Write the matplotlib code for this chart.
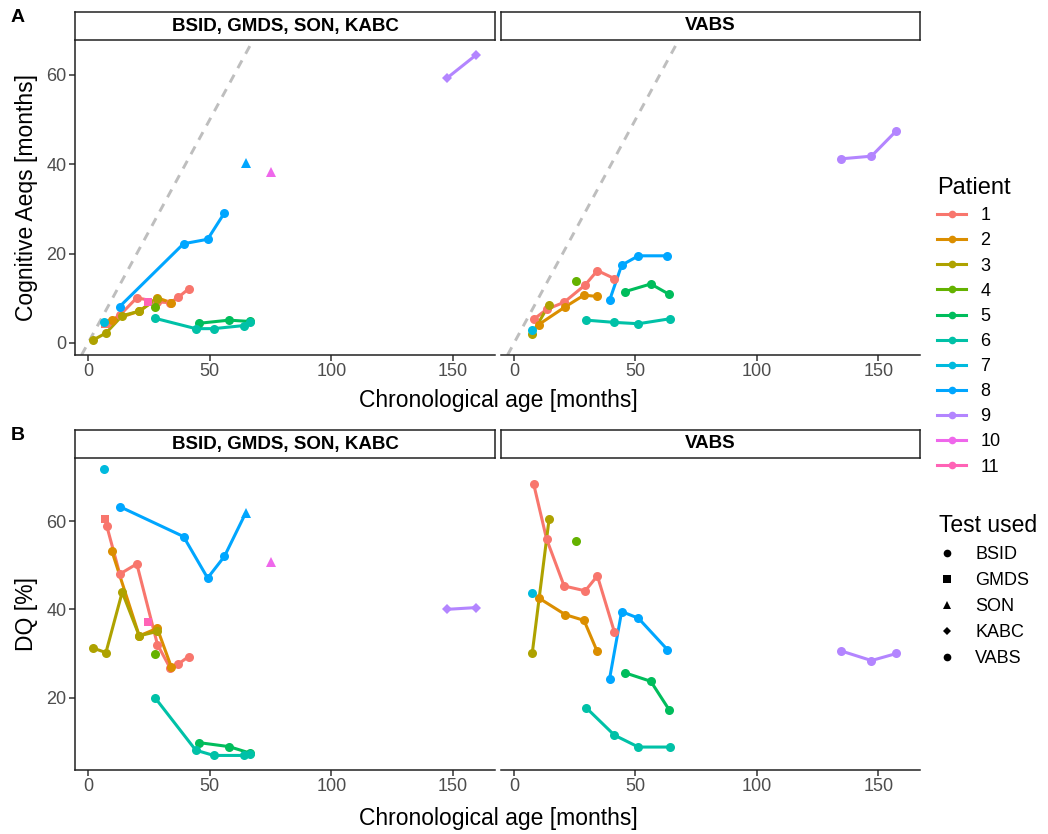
import matplotlib.pyplot as plt
from matplotlib.lines import Line2D

plt.rcParams['font.family'] = ['Liberation Sans', 'DejaVu Sans']

# ggplot hue palette for 11 patients
PATIENT_COLORS = ['#F8766D', '#DB8E00', '#AEA200', '#64B200', '#00BD5C', '#00C1A7',
                  '#00BADE', '#00A6FF', '#B385FF', '#EF67EB', '#FF63B6']
TESTS = ['BSID', 'GMDS', 'SON', 'KABC', 'VABS']
TEST_MARKERS = {'BSID': 'o', 'GMDS': 's', 'SON': '^', 'KABC': 'D', 'VABS': 'o'}
TEST_SIZES = {'BSID': 6.5, 'GMDS': 6.2, 'SON': 7.5, 'KABC': 4.8, 'VABS': 6.5}

# one entry per assessment
patient = [1, 1, 1, 1, 1, 1, 1, 1,
           11,
           2, 2, 2, 2,
           3, 3, 3, 3, 3,
           4,
           5, 5, 5,
           6, 6, 6, 6, 6,
           7,
           8, 8, 8, 8, 8,
           9, 9,
           10,
           # VABS
           1, 1, 1, 1, 1, 1,
           2, 2, 2, 2,
           3, 3,
           4,
           5, 5, 5,
           6, 6, 6, 6,
           7,
           8, 8, 8, 8,
           9, 9, 9]
test = ['GMDS', 'BSID', 'BSID', 'BSID', 'BSID', 'BSID', 'BSID', 'BSID',
        'GMDS',
        'BSID', 'BSID', 'BSID', 'BSID',
        'BSID', 'BSID', 'BSID', 'BSID', 'BSID',
        'BSID',
        'BSID', 'BSID', 'BSID',
        'BSID', 'BSID', 'BSID', 'BSID', 'BSID',
        'BSID',
        'BSID', 'BSID', 'BSID', 'BSID', 'SON',
        'KABC', 'KABC',
        'SON'] + ['VABS'] * 30
age = [7.0, 7.7, 13.0, 20.0, 28.5, 33.7, 37.0, 41.3,
       24.8,
       9.7, 21.0, 28.4, 34.2,
       2.2, 7.3, 14.0, 21.0, 28.4,
       27.3,
       45.6, 57.9, 66.7,
       27.6, 44.2, 51.6, 64.2, 66.7,
       6.6,
       12.9, 39.2, 49.1, 56.0, 64.8,
       147.3, 159.3,
       75.0,
       8.1, 13.4, 20.6, 29.3, 34.3, 41.3,
       10.1, 21.1, 28.8, 34.2,
       7.5, 14.4,
       25.6,
       45.8, 56.3, 63.8,
       29.7, 41.3, 51.2, 64.1,
       7.2,
       39.3, 44.3, 51.2, 63.1,
       134.6, 147.2, 157.5]
aeq = [4.3, 4.5, 6.2, 10.1, 9.2, 9.0, 10.2, 12.1,
       9.2,
       5.1, 7.1, 10.1, 9.0,
       0.7, 2.2, 6.1, 7.1, 9.9,
       8.1,
       4.4, 5.1, 4.8,
       5.5, 3.2, 3.2, 3.9, 4.7,
       4.7,
       8.1, 22.2, 23.2, 29.1, 40.3,
       59.2, 64.4,
       38.3,
       5.3, 7.5, 9.1, 13.0, 16.2, 14.4,
       4.1, 8.1, 10.7, 10.4,
       2.1, 8.6,
       13.9,
       11.5, 13.2, 10.9,
       5.1, 4.6, 4.3, 5.4,
       3.0,
       9.5, 17.4, 19.5, 19.5,
       41.2, 41.8, 47.5]
dq = [60.5, 58.8, 48.0, 50.3, 32.0, 26.7, 27.6, 29.3,
      37.1,
      53.3, 34.0, 35.7, 26.9,
      31.2, 30.2, 43.9, 34.0, 35.0,
      29.8,
      9.8, 8.9, 7.4,
      19.9, 8.1, 6.9, 6.9, 7.2,
      71.8,
      63.3, 56.5, 47.1, 52.0, 61.9,
      40.0, 40.4,
      50.7,
      68.3, 55.9, 45.3, 44.2, 47.6, 34.9,
      42.6, 38.8, 37.5, 30.5,
      30.2, 60.4,
      55.5,
      25.6, 23.7, 17.3,
      17.7, 11.5, 8.8, 8.8,
      43.8,
      24.2, 39.5, 38.0, 30.9,
      30.6, 28.4, 30.0]

FACETS = ['BSID, GMDS, SON, KABC', 'VABS']

W, H = 1048, 834
fig = plt.figure(figsize=(W / 100, H / 100), dpi=100)


def px_axes(x0, y0, x1, y1):
    return fig.add_axes([x0 / W, 1 - y1 / H, (x1 - x0) / W, (y1 - y0) / H])


def strip(x0, y0, x1, y1, text):
    ax = px_axes(x0, y0, x1, y1)
    ax.set_xticks([])
    ax.set_yticks([])
    for s in ax.spines.values():
        s.set_linewidth(1.1)
        s.set_color('#222222')
    ax.text(0.5, 0.5, text, ha='center', va='center', fontsize=13.5,
            fontweight='bold', transform=ax.transAxes)


def draw_panel(ax, facet, yvals, split_tests, ylim, show_yaxis):
    ax.set_xlim(-5.4, 167.2)
    ax.set_ylim(*ylim)
    if yvals is aeq:
        # reference line: cognitive age equal to chronological age
        ax.axline((0, 0), slope=1, color='#BEBEBE', lw=2.1, ls=(0, (3, 2.6)), zorder=1)
    idx = [i for i in range(len(patient)) if (test[i] == 'VABS') == (facet == 1)]
    for p in range(1, 12):
        groups = [TESTS] if not split_tests else [[t] for t in TESTS]
        for g in groups:
            sel = [i for i in idx if patient[i] == p and test[i] in g]
            if len(sel) > 1:
                ax.plot([age[i] for i in sel], [yvals[i] for i in sel],
                        color=PATIENT_COLORS[p - 1], lw=2.2, zorder=2,
                        solid_joinstyle='round', solid_capstyle='butt')
    for i in idx:
        ax.plot(age[i], yvals[i], marker=TEST_MARKERS[test[i]], ms=TEST_SIZES[test[i]],
                color=PATIENT_COLORS[patient[i] - 1], ls='none', zorder=3, mew=0)
    ax.set_xticks([0, 50, 100, 150])
    for s in ['top', 'right']:
        ax.spines[s].set_visible(False)
    for s in ['left', 'bottom']:
        ax.spines[s].set_linewidth(1.1)
        ax.spines[s].set_color('#222222')
    ax.tick_params(labelsize=13, labelcolor='#4D4D4D', length=4, width=1.1,
                   color='#333333', pad=2)
    if not show_yaxis:
        # interior facet: no y axis drawn
        ax.spines['left'].set_visible(False)
        ax.tick_params(axis='y', left=False, labelleft=False)


# panel A
axA1 = px_axes(75, 40, 495, 355)
axA2 = px_axes(501, 40, 920, 355)
draw_panel(axA1, 0, aeq, True, (-2.7, 67.8), True)
draw_panel(axA2, 1, aeq, True, (-2.7, 67.8), False)
for ax in (axA1, axA2):
    ax.set_yticks([0, 20, 40, 60])
strip(75, 12, 495, 40, FACETS[0])
strip(501, 12, 920, 40, FACETS[1])
axA1.set_ylabel('Cognitive Aeqs [months]', fontsize=16.5, labelpad=6)
fig.text(498 / W, 1 - 400 / H, 'Chronological age [months]', ha='center', va='center', fontsize=16.5)

# panel B
axB1 = px_axes(75, 458, 495, 770)
axB2 = px_axes(501, 458, 920, 770)
draw_panel(axB1, 0, dq, False, (3.6, 74.3), True)
draw_panel(axB2, 1, dq, False, (3.6, 74.3), False)
for ax in (axB1, axB2):
    ax.set_yticks([20, 40, 60])
strip(75, 430, 495, 458, FACETS[0])
strip(501, 430, 920, 458, FACETS[1])
axB1.set_ylabel('DQ [%]', fontsize=16.5, labelpad=6)
fig.text(498 / W, 1 - 818 / H, 'Chronological age [months]', ha='center', va='center', fontsize=16.5)

fig.text(18 / W, 1 - 18 / H, 'A', fontsize=14, fontweight='bold', ha='center', va='center')
fig.text(18 / W, 1 - 435 / H, 'B', fontsize=14, fontweight='bold', ha='center', va='center')

# legends
patient_handles = [Line2D([], [], color=c, lw=2.2, marker='o', ms=5.5, mew=0) for c in PATIENT_COLORS]
leg1 = fig.legend(patient_handles, [str(i) for i in range(1, 12)], title='Patient',
                  loc='upper left', bbox_to_anchor=(930 / W, 1 - 170 / H), frameon=False,
                  fontsize=13, title_fontsize=17, handlelength=1.6, labelspacing=0.45,
                  handletextpad=0.8, alignment='left', borderaxespad=0)
test_handles = [Line2D([], [], color='black', ls='none', marker=TEST_MARKERS[t],
                       ms=TEST_SIZES[t] * 0.85, mew=0) for t in TESTS]
leg2 = fig.legend(test_handles, TESTS, title='Test used',
                  loc='upper left', bbox_to_anchor=(932 / W, 1 - 507 / H), frameon=False,
                  fontsize=13, title_fontsize=16.5, handlelength=0.9, labelspacing=0.5,
                  handletextpad=1.1, alignment='left', borderaxespad=0)

fig.savefig('out.png', dpi=100)
